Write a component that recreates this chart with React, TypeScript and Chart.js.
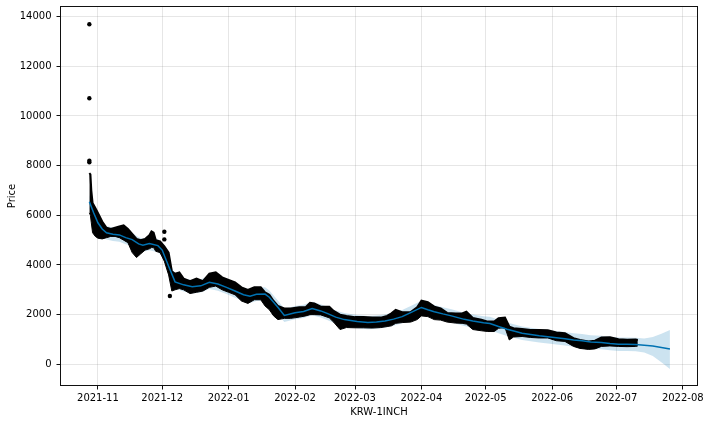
import React, { useEffect, useRef } from "react";
import { Chart, registerables } from "chart.js";

Chart.register(...registerables);

// ---------- data ----------
// Forecast (Prophet): dates, yhat, upper and lower bounds
const FC_DATES = [
  "2021-10-28", "2021-10-30", "2021-11-01", "2021-11-03", "2021-11-05", "2021-11-08", "2021-11-11",
  "2021-11-14", "2021-11-17", "2021-11-20", "2021-11-22", "2021-11-25", "2021-11-29", "2021-12-01",
  "2021-12-04", "2021-12-07", "2021-12-11", "2021-12-15", "2021-12-19", "2021-12-23", "2021-12-27",
  "2021-12-31", "2022-01-04", "2022-01-08", "2022-01-11", "2022-01-14", "2022-01-18", "2022-01-20",
  "2022-01-24", "2022-01-27", "2022-02-01", "2022-02-05", "2022-02-09", "2022-02-13", "2022-02-16",
  "2022-02-20", "2022-02-24", "2022-03-02", "2022-03-07", "2022-03-11", "2022-03-15", "2022-03-19",
  "2022-03-23", "2022-03-27", "2022-04-01", "2022-04-04", "2022-04-07", "2022-04-11", "2022-04-15",
  "2022-04-21", "2022-04-25", "2022-04-30", "2022-05-03", "2022-05-07", "2022-05-11", "2022-05-15",
  "2022-05-18", "2022-05-22", "2022-05-26", "2022-05-30", "2022-06-03", "2022-06-07", "2022-06-11",
  "2022-06-15", "2022-06-19", "2022-06-24", "2022-06-28", "2022-07-02", "2022-07-06", "2022-07-10",
  "2022-07-14", "2022-07-18", "2022-07-22", "2022-07-26",
];
const YHAT = [
  6550, 6100, 5700, 5450, 5300, 5240, 5210,
  5100, 5020, 4850, 4800, 4860, 4780, 4600,
  3950, 3320, 3200, 3120, 3160, 3300, 3230,
  3100, 2950, 2800, 2740, 2820, 2830, 2700,
  2300, 1970, 2080, 2130, 2250, 2150, 2050,
  1900, 1800, 1720, 1680, 1700, 1740, 1820,
  1920, 2080, 2290, 2200, 2120, 2030, 1950,
  1810, 1740, 1670, 1640, 1520, 1410, 1320,
  1250, 1200, 1150, 1110, 1070, 1030, 980,
  950, 900, 880, 840, 810, 810, 800,
  770, 740, 680, 616,
];
const YHAT_UPPER = [
  6820, 6370, 5970, 5720, 5570, 5510, 5480,
  5370, 5290, 5120, 5070, 5130, 5050, 4870,
  4220, 3590, 3470, 3390, 3430, 3570, 3500,
  3370, 3220, 3070, 3010, 3090, 3100, 2970,
  2570, 2240, 2350, 2400, 2520, 2420, 2320,
  2170, 2070, 1990, 1950, 1970, 2010, 2090,
  2190, 2350, 2560, 2470, 2390, 2300, 2220,
  2080, 2010, 1940, 1910, 1790, 1680, 1590,
  1520, 1470, 1420, 1380, 1340, 1300, 1250,
  1220, 1170, 1150, 1110, 1080, 1080, 1070,
  1040, 1100, 1230, 1380,
];
const YHAT_LOWER = [
  6280, 5830, 5430, 5180, 5030, 4970, 4940,
  4830, 4750, 4580, 4530, 4590, 4510, 4330,
  3680, 3050, 2930, 2850, 2890, 3030, 2960,
  2830, 2680, 2530, 2470, 2550, 2560, 2430,
  2030, 1700, 1810, 1860, 1980, 1880, 1780,
  1630, 1530, 1450, 1410, 1430, 1470, 1550,
  1650, 1810, 2020, 1930, 1850, 1760, 1680,
  1540, 1470, 1400, 1370, 1250, 1140, 1050,
  980, 930, 880, 840, 800, 760, 710,
  680, 630, 610, 570, 540, 540, 530,
  480, 330, 80, -190,
];

// Observed prices: upper and lower edge of the dense cloud of observations
const OBS_DATES = [
  "2021-10-28T00:00", "2021-10-28T12:00", "2021-10-28T22:00", "2021-10-29T12:00", "2021-10-30T19:00",
  "2021-11-01", "2021-11-03", "2021-11-05", "2021-11-07", "2021-11-09", "2021-11-11", "2021-11-13",
  "2021-11-15", "2021-11-17", "2021-11-19", "2021-11-21", "2021-11-23", "2021-11-25", "2021-11-26",
  "2021-11-27", "2021-11-28", "2021-11-30", "2021-12-02", "2021-12-04", "2021-12-05T12:00", "2021-12-07",
  "2021-12-09", "2021-12-11", "2021-12-14", "2021-12-17", "2021-12-20", "2021-12-23", "2021-12-26",
  "2021-12-29", "2022-01-01", "2022-01-04", "2022-01-07", "2022-01-10", "2022-01-13", "2022-01-16",
  "2022-01-18", "2022-01-20", "2022-01-22", "2022-01-24", "2022-01-27", "2022-01-30", "2022-02-03",
  "2022-02-06", "2022-02-08", "2022-02-10", "2022-02-13", "2022-02-17", "2022-02-19", "2022-02-22",
  "2022-02-25", "2022-03-01", "2022-03-05", "2022-03-09", "2022-03-13", "2022-03-16", "2022-03-18",
  "2022-03-20", "2022-03-23", "2022-03-27", "2022-03-30", "2022-04-01", "2022-04-04", "2022-04-07",
  "2022-04-10", "2022-04-13", "2022-04-17", "2022-04-20", "2022-04-22", "2022-04-25", "2022-04-29",
  "2022-05-02", "2022-05-05", "2022-05-07", "2022-05-10", "2022-05-12", "2022-05-14", "2022-05-18",
  "2022-05-22", "2022-05-26", "2022-05-30", "2022-06-03", "2022-06-07", "2022-06-11", "2022-06-14",
  "2022-06-18", "2022-06-21", "2022-06-24", "2022-06-28", "2022-07-02", "2022-07-06", "2022-07-10",
  "2022-07-11",
];
const OBS_HIGH = [
  7700, 7650, 7000, 6500, 6300,
  6100, 5750, 5500, 5450, 5500, 5550, 5600,
  5450, 5250, 5050, 5000, 5050, 5200, 5350,
  5300, 5000, 4950, 4750, 4500, 3750, 3650,
  3700, 3450, 3350, 3450, 3350, 3650, 3700,
  3500, 3400, 3300, 3100, 3000, 3100, 3100,
  2900, 2800, 2550, 2350, 2250, 2250, 2300,
  2300, 2480, 2450, 2320, 2320, 2150, 2000,
  1950, 1900, 1900, 1880, 1880, 1950, 2050,
  2190, 2100, 2100, 2300, 2560, 2500, 2320,
  2250, 2070, 2050, 2050, 2120, 1870, 1800,
  1720, 1720, 1860, 1880, 1520, 1450, 1420,
  1380, 1380, 1370, 1280, 1250, 1050, 980,
  920, 950, 1080, 1090, 1010, 990, 1000,
  980,
];
const OBS_LOW = [
  6100, 6000, 5700, 5300, 5150,
  5080, 5050, 5100, 5150, 5150, 5100, 5000,
  4900, 4500, 4300, 4450, 4600, 4650, 4700,
  4700, 4550, 4500, 4150, 3600, 2950, 3000,
  3050, 3000, 2850, 2900, 2950, 3100, 3150,
  3000, 2900, 2800, 2550, 2450, 2600, 2600,
  2350, 2200, 1950, 1800, 1850, 1850, 1900,
  1950, 2000, 2000, 1990, 1870, 1700, 1400,
  1480, 1470, 1470, 1460, 1480, 1520, 1550,
  1650, 1680, 1700, 1800, 1950, 1920, 1800,
  1780, 1700, 1660, 1650, 1620, 1400, 1350,
  1320, 1320, 1450, 1480, 980, 1100, 1120,
  1080, 1060, 1060, 950, 920, 720, 640,
  600, 620, 720, 740, 720, 710, 720,
  740,
];

// Isolated observations outside the dense cloud
const OUTLIER_DATES = [
  "2021-10-28T00:00", "2021-10-28T00:00", "2021-10-28T00:00", "2021-10-28T00:00",
  "2021-12-02T00:00", "2021-12-02T00:00", "2021-12-04T14:00",
];
const OUTLIER_VALUES = [13692, 10712, 8199, 8135, 5340, 5030, 2750];

const X_TICK_LABELS = [
  "2021-11", "2021-12", "2022-01", "2022-02", "2022-03",
  "2022-04", "2022-05", "2022-06", "2022-07", "2022-08",
];
const Y_TICKS = [0, 2000, 4000, 6000, 8000, 10000, 12000, 14000];

const X_TITLE = "KRW-1INCH";
const Y_TITLE = "Price";

// axis limits (days since 2021-11-01, price)
const X_LIMITS = [-17.7, 280.1];
const Y_LIMITS = [-874, 14430];

// ---------- helpers ----------
const ORIGIN = Date.UTC(2021, 10, 1);
const toDay = (s: string) => {
  const iso = s.length === 10 ? s + "T00:00:00Z" : s + ":00Z";
  return (Date.parse(iso) - ORIGIN) / 86400000;
};
const pts = (dates: string[], vals: number[]) => dates.map((d, i) => ({ x: toDay(d), y: vals[i] }));

const FONT = { family: "'DejaVu Sans', sans-serif", size: 10 };

const framePlugin = {
  id: "frame",
  afterDatasetsDraw(chart: any) {
    const { ctx, chartArea } = chart;
    const l = Math.round(chartArea.left) + 0.5;
    const t = Math.round(chartArea.top) + 0.5;
    const r = Math.round(chartArea.right) - 0.5;
    const b = Math.round(chartArea.bottom) - 0.5;
    ctx.save();
    ctx.strokeStyle = "#111";
    ctx.lineWidth = 1;
    ctx.strokeRect(l, t, r - l, b - t);
    ctx.restore();
  },
};

export default function App() {
  const ref = useRef<HTMLCanvasElement | null>(null);

  useEffect(() => {
    document.body.style.margin = "0";
    const canvas = ref.current;
    if (!canvas) return;

    const grid = {
      color: "rgba(128,128,128,0.2)",
      lineWidth: 1,
      tickColor: "#111",
      tickLength: 3.5,
      tickWidth: 1,
      drawTicks: true,
    };

    const chart = new Chart(canvas, {
      type: "line",
      data: {
        datasets: [
          {
            label: "yhat",
            data: pts(FC_DATES, YHAT),
            borderColor: "#0072B2",
            borderWidth: 1.5,
            pointRadius: 0,
            fill: false,
            order: 0,
          },
          {
            label: "outliers",
            data: pts(OUTLIER_DATES, OUTLIER_VALUES),
            showLine: false,
            pointRadius: 2.2,
            pointBackgroundColor: "#000",
            pointBorderWidth: 0,
            order: 1,
          },
          {
            label: "obs high",
            data: pts(OBS_DATES, OBS_HIGH),
            borderColor: "#000",
            backgroundColor: "#000",
            borderWidth: 2,
            pointRadius: 0,
            fill: "+1",
            order: 1,
          },
          {
            label: "obs low",
            data: pts(OBS_DATES, OBS_LOW),
            borderColor: "#000",
            borderWidth: 1,
            pointRadius: 0,
            fill: false,
            order: 1,
          },
          {
            label: "upper",
            data: pts(FC_DATES, YHAT_UPPER),
            borderWidth: 0,
            borderColor: "rgba(0,0,0,0)",
            backgroundColor: "rgba(0,114,178,0.2)",
            pointRadius: 0,
            fill: "+1",
            order: 2,
          },
          {
            label: "lower",
            data: pts(FC_DATES, YHAT_LOWER),
            borderWidth: 0,
            borderColor: "rgba(0,0,0,0)",
            pointRadius: 0,
            fill: false,
            order: 2,
          },
        ],
      },
      options: {
        animation: false,
        responsive: false,
        devicePixelRatio: 1,
        layout: { padding: { top: 6, right: 12, bottom: 0, left: 0 } },
        elements: { line: { tension: 0 } },
        plugins: {
          legend: { display: false },
          tooltip: { enabled: false },
        },
        scales: {
          x: {
            type: "linear",
            min: X_LIMITS[0],
            max: X_LIMITS[1],
            afterBuildTicks: (s: any) => {
              s.ticks = X_TICK_LABELS.map((l) => ({ value: toDay(l + "-01") }));
            },
            afterFit: (s: any) => {
              s.height = 38;
              s.paddingLeft = 0;
              s.paddingRight = 0;
            },
            ticks: {
              callback: (_v: any, i: number) => X_TICK_LABELS[i],
              color: "#000",
              font: FONT,
              padding: 3,
              maxRotation: 0,
              autoSkip: false,
            },
            grid,
            border: { display: false },
            title: {
              display: true,
              text: X_TITLE,
              color: "#000",
              font: FONT,
              padding: { top: 0, bottom: 6 },
            },
          },
          y: {
            type: "linear",
            min: Y_LIMITS[0],
            max: Y_LIMITS[1],
            afterBuildTicks: (s: any) => {
              s.ticks = Y_TICKS.map((v) => ({ value: v }));
            },
            afterFit: (s: any) => {
              s.width = 60;
              s.paddingTop = 0;
              s.paddingBottom = 0;
            },
            ticks: {
              callback: (v: any) => String(v),
              color: "#000",
              font: FONT,
              padding: 5,
            },
            grid,
            border: { display: false },
            title: {
              display: true,
              text: Y_TITLE,
              color: "#000",
              font: FONT,
              padding: { top: 6, bottom: 0 },
            },
          },
        },
      },
      plugins: [framePlugin],
    } as any);

    return () => chart.destroy();
  }, []);

  return (
    <div style={{ position: "absolute", left: 0, top: 0, width: 710, height: 424, background: "#fff" }}>
      <canvas ref={ref} width={710} height={424} style={{ display: "block" }} />
    </div>
  );
}
